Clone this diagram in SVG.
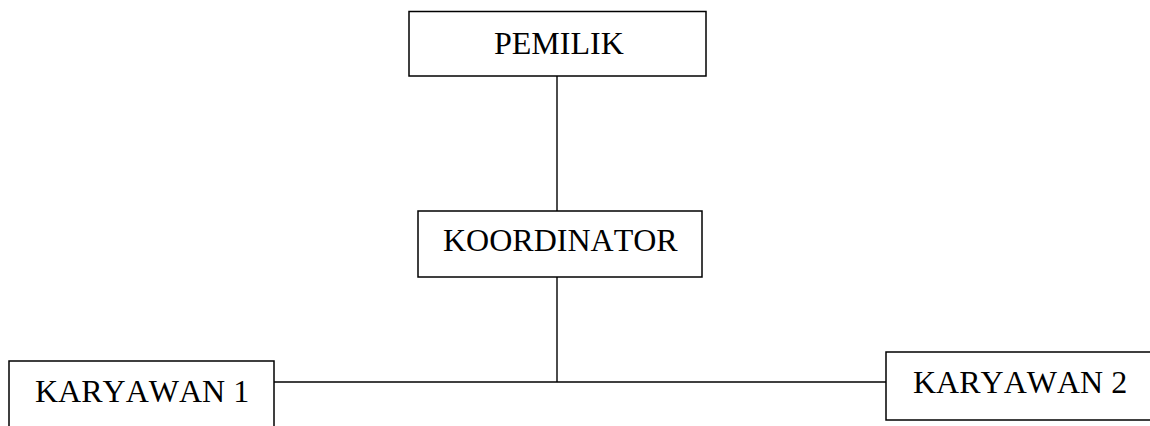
<svg xmlns="http://www.w3.org/2000/svg" width="1150" height="426" viewBox="0 0 1150 426">
<style>
.box{fill:#fff;stroke:#000;stroke-width:1.5}
.lbl{font-family:"Liberation Serif","Times New Roman",serif;font-size:32px;fill:#000;font-kerning:none}
.con{stroke:#000;stroke-width:1.4;fill:none}
</style>
<rect width="1150" height="426" fill="#fff"/>
<g id="connectors">
<line class="con" x1="557" y1="76" x2="557" y2="211"/>
<line class="con" x1="557" y1="277" x2="557" y2="382"/>
<line class="con" x1="274" y1="382" x2="886" y2="382"/>
</g>
<g id="pemilik">
<rect class="box" x="409" y="11.5" width="297" height="64.5"/>
<text class="lbl" x="494" y="54">PEMILIK</text>
</g>
<g id="koordinator">
<rect class="box" x="418" y="211" width="284" height="66"/>
<text class="lbl" x="443" y="251">KOORDINATOR</text>
</g>
<g id="karyawan1">
<rect class="box" x="9" y="361" width="265" height="70"/>
<text class="lbl" x="35" y="402">KARYAWAN 1</text>
</g>
<g id="karyawan2">
<rect class="box" x="886" y="352" width="270" height="68"/>
<text class="lbl" x="913" y="393">KARYAWAN 2</text>
</g>
</svg>
